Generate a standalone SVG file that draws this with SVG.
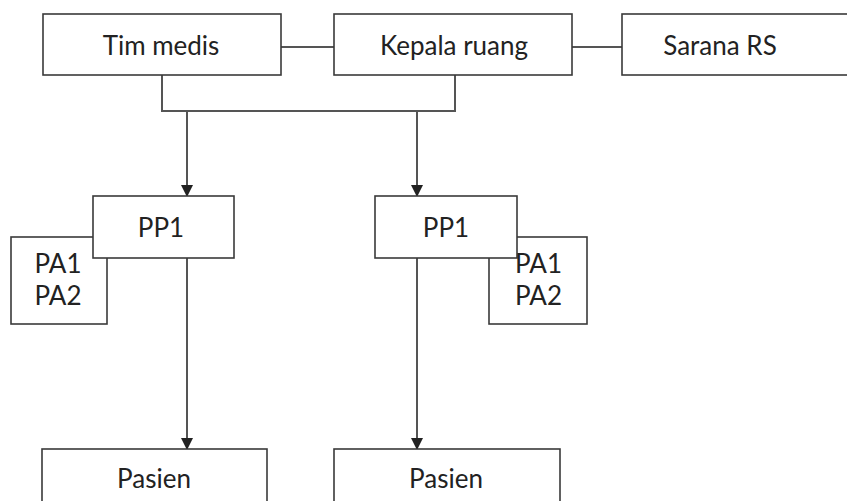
<svg xmlns="http://www.w3.org/2000/svg" width="847" height="501" viewBox="0 0 847 501">
<style>
.box{fill:#fff;stroke:#3a3a3a;stroke-width:1.6}
.t{font-family:Lato,"Open Sans",sans-serif;font-size:26px;fill:#222}
.c{text-anchor:middle}
.ln{fill:none;stroke:#555;stroke-width:2}
</style>
<defs>
<marker id="ah" markerWidth="12" markerHeight="14" refX="11" refY="6" orient="auto" markerUnits="userSpaceOnUse">
<path d="M0,0 L12,6 L0,12 z" fill="#222"/>
</marker>
</defs>
<rect width="847" height="501" fill="#fff"/>
<g id="connectors">
<line class="ln" x1="281" y1="47" x2="334" y2="47"/>
<line class="ln" x1="572" y1="47" x2="622" y2="47"/>
<polyline class="ln" points="162,75 162,111 455,111 455,75"/>
<line class="ln" x1="187" y1="111" x2="187" y2="196" marker-end="url(#ah)"/>
<line class="ln" x1="417" y1="111" x2="417" y2="196" marker-end="url(#ah)"/>
<line class="ln" x1="187" y1="258" x2="187" y2="449" marker-end="url(#ah)"/>
<line class="ln" x1="417" y1="258" x2="417" y2="449" marker-end="url(#ah)"/>
</g>
<g id="tim-medis"><rect class="box" x="43" y="14" width="238" height="61"/><text class="t c" x="161" y="55">Tim medis</text></g>
<g id="kepala-ruang"><rect class="box" x="334" y="14" width="238" height="61"/><text class="t c" x="454" y="55">Kepala ruang</text></g>
<g id="sarana-rs"><rect class="box" x="622" y="14" width="240" height="61"/><text class="t c" x="720" y="55">Sarana RS</text></g>
<g id="pa-left"><rect class="box" x="11" y="237" width="96" height="87"/><text class="t c" x="58" y="273">PA1</text><text class="t c" x="58" y="305">PA2</text></g>
<g id="pp1-left"><rect class="box" x="93" y="196" width="141" height="62"/><text class="t c" x="161" y="237">PP1</text></g>
<g id="pa-right"><rect class="box" x="489" y="237" width="98" height="87"/></g>
<g id="pp1-right"><rect class="box" x="375" y="196" width="142" height="62"/><text class="t c" x="446" y="237">PP1</text></g>
<g id="pa-right-text"><text class="t" x="515" y="273">PA1</text><text class="t" x="515" y="305">PA2</text></g>
<g id="pasien-left"><rect class="box" x="42" y="449" width="225" height="70"/><text class="t c" x="154" y="488">Pasien</text></g>
<g id="pasien-right"><rect class="box" x="334" y="449" width="226" height="70"/><text class="t c" x="446" y="488">Pasien</text></g>
</svg>
